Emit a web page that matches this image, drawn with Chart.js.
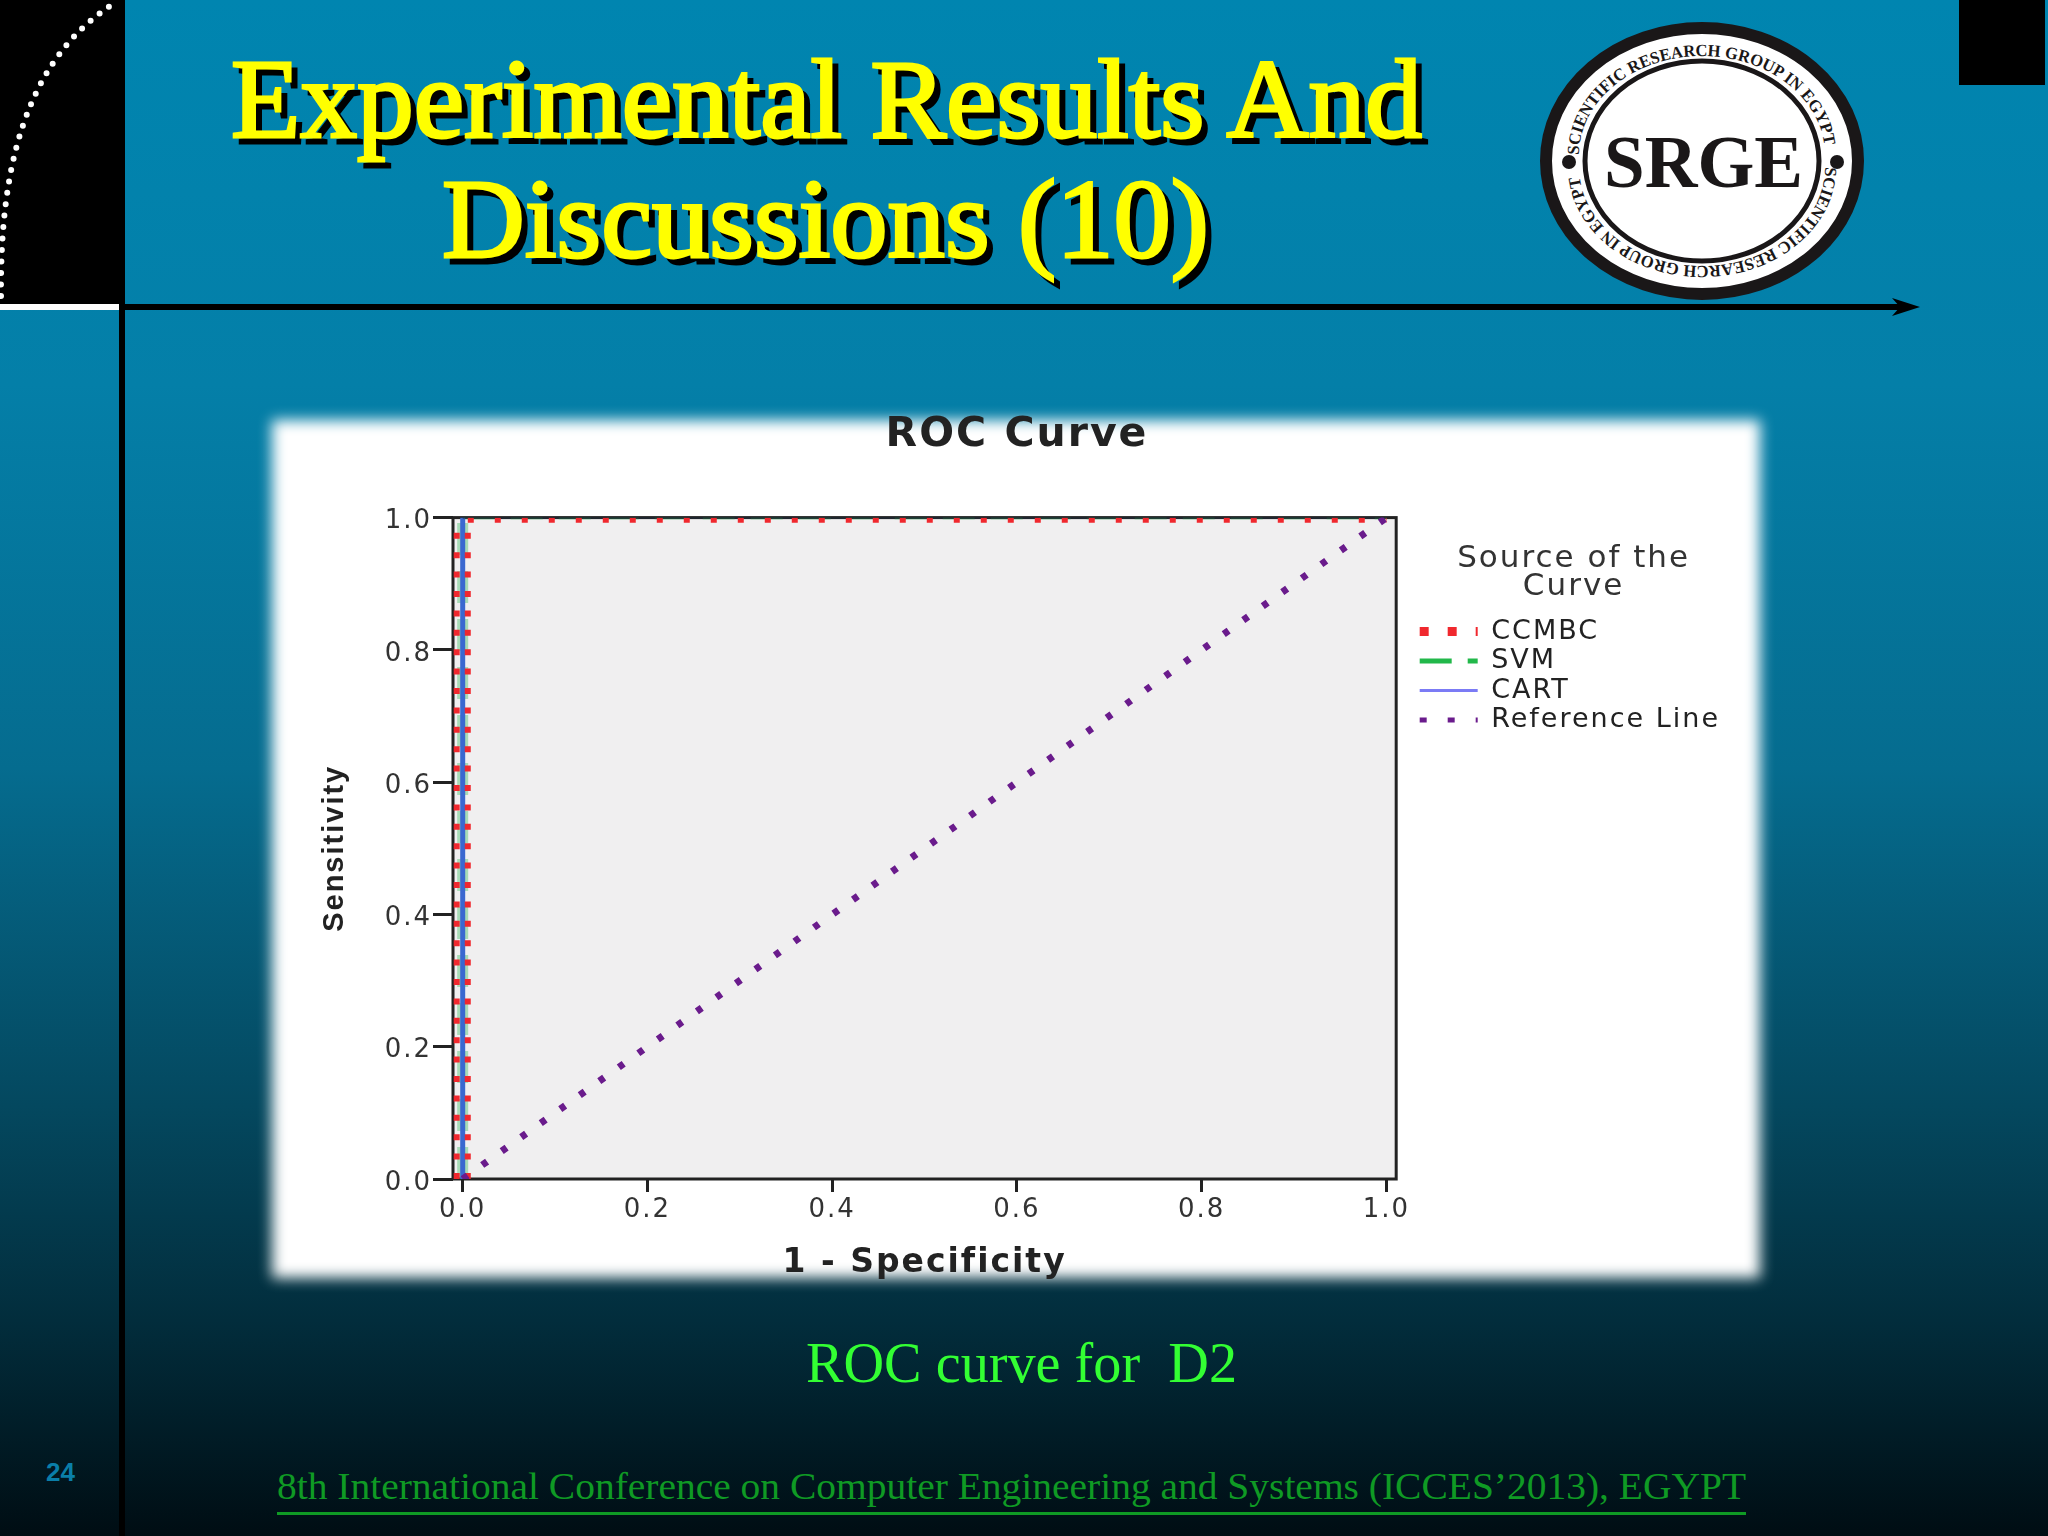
<!DOCTYPE html>
<html lang="en">
<head>
    <meta charset="UTF-8">
    <title>Experimental Results And Discussions (10)</title>
    <script src="https://cdn.jsdelivr.net/npm/chart.js"></script>
    <style>
        html, body { margin: 0; padding: 0; }
        body {
            width: 2048px; height: 1536px; overflow: hidden; position: relative;
            background: linear-gradient(#0085b0 0%, #047fa8 25%, #056c8f 50%, #04485f 72%, #022d3c 86%, #000d13 100%);
        }
        #panel { position: absolute; left: 272px; top: 420px; width: 1488px; height: 858px; background: #fff; filter: blur(7px); }
        #deco { position: absolute; left: 0; top: 0; }
        #wrap { position: absolute; left: 272px; top: 400px; width: 1490px; height: 883px; }
    </style>
</head>
<body>
    <div id="panel"></div>

    <svg id="deco" width="2048" height="1536" viewBox="0 0 2048 1536">
        <!-- slide furniture -->
        <rect x="0" y="0" width="125" height="304" fill="#000"/>
        <rect x="0" y="304" width="119" height="6" fill="#fff"/>
        <rect x="119" y="304" width="6" height="1232" fill="#000"/>
        <rect x="125" y="304" width="1785" height="6" fill="#000"/>
        <path d="M1892 298 L1920 307 L1892 316 L1900 307 Z" fill="#000"/>
        <rect x="1959" y="0" width="86" height="85" fill="#000"/>
        <path d="M1 296 C0 180 20 60 118 1" fill="none" stroke="#fff" stroke-width="6" stroke-linecap="round" stroke-dasharray="0 11.5"/>

        <!-- title -->
        <g font-family="Liberation Serif" font-size="112" fill="#ffff00" stroke="#ffff00" stroke-width="3" text-anchor="start">
            <text x="237" y="143" fill="#000" stroke="#000" textLength="1191" lengthAdjust="spacingAndGlyphs">Experimental Results And</text>
            <text x="448" y="263" fill="#000" stroke="#000" textLength="767" lengthAdjust="spacingAndGlyphs">Discussions (10)</text>
            <text x="231" y="137" textLength="1191" lengthAdjust="spacingAndGlyphs">Experimental Results And</text>
            <text x="442" y="257" textLength="767" lengthAdjust="spacingAndGlyphs">Discussions (10)</text>
        </g>

        <!-- logo -->
        <ellipse cx="1702" cy="161" rx="156" ry="133" fill="#fff" stroke="#1a1718" stroke-width="12"/>
        <ellipse cx="1702" cy="161" rx="117" ry="100" fill="#fff" stroke="#1a1718" stroke-width="5"/>
        <circle cx="1569" cy="162" r="7" fill="#1a1718"/>
        <circle cx="1837" cy="162" r="7" fill="#1a1718"/>
        <defs>
            <path id="arcTop" d="M1579 155 A123 99 0 0 1 1825 155"/>
            <path id="arcBottom" d="M1825 167 A123 99 0 0 1 1579 167"/>
        </defs>
        <g font-family="Liberation Serif" font-weight="bold" font-size="17" fill="#1a1718">
            <text><textPath href="#arcTop" textLength="340" lengthAdjust="spacingAndGlyphs">SCIENTIFIC RESEARCH GROUP IN EGYPT</textPath></text>
            <text><textPath href="#arcBottom" textLength="340" lengthAdjust="spacingAndGlyphs">SCIENTIFIC RESEARCH GROUP IN EGYPT</textPath></text>
        </g>
        <text x="1604" y="187" font-family="Liberation Serif" font-weight="bold" font-size="74" fill="#1a1718" textLength="199" lengthAdjust="spacingAndGlyphs">SRGE</text>

        <!-- caption and footer -->
        <text x="806" y="1382" font-family="Liberation Serif" font-size="56" fill="#33ff33" xml:space="preserve" textLength="431" lengthAdjust="spacingAndGlyphs">ROC curve for  D2</text>
        <text x="277" y="1499" font-family="Liberation Serif" font-size="38" fill="#0f9a24" textLength="1469" lengthAdjust="spacingAndGlyphs">8th International Conference on Computer Engineering and Systems (ICCES’2013), EGYPT</text>
        <rect x="277" y="1512" width="1469" height="3" fill="#0f9a24"/>
        <text x="46" y="1481" font-family="Liberation Sans" font-weight="bold" font-size="26" fill="#0a7ea8">24</text>
    </svg>

    <div id="wrap"><canvas id="rocChart" width="1490" height="883"></canvas></div>

    <script>
        const xTicks = [0, 0.2, 0.4, 0.6, 0.8, 1];
        const yTicks = [0, 0.2, 0.4, 0.6, 0.8, 1];

        // CCMBC shows as two red columns either side of x = 0, null breaks the path
        const ccmbcX = [-0.0065, -0.0065, null, 0.0055, 0.0055, 1];
        const ccmbcY = [0, 0.996, null, 0, 0.996, 0.996];
        const svmX = [0, 0, 1];
        const svmY = [0, 1, 1];
        const cartX = [0, 0, 1];
        const cartY = [0, 1, 1];
        const refX = [0, 1];
        const refY = [0, 1];

        function toPoints(xs, ys) {
            return xs.map((x, i) => ({ x: x, y: ys[i] }));
        }

        function isVertical(ctx) {
            return ctx.p0.parsed.x === ctx.p1.parsed.x;
        }

        const tickFont = { family: 'DejaVu Sans', size: 26 };

        // frame and grey plot background, and the text tracking of the stretched original
        const plotFrame = {
            id: 'plotFrame',
            beforeUpdate(chart) { chart.ctx.letterSpacing = '2px'; },
            afterLayout(chart) {
                // title centres on the whole canvas, legend sits clear of the plot
                chart.titleBlock.right = chart.width;
                const legend = chart.legend;
                const w = legend.width;
                legend.left = chart.chartArea.right + 21;
                legend.right = legend.left + w;
                legend.top = chart.chartArea.top + 26;
                legend.bottom = legend.top + 260;
            },
            beforeDatasetsDraw(chart) {
                const a = chart.chartArea, ctx = chart.ctx;
                ctx.save();
                ctx.fillStyle = '#f0eff0';
                ctx.fillRect(a.left, a.top, a.width, a.height);
                ctx.strokeStyle = '#222';
                ctx.lineWidth = 3;
                ctx.strokeRect(a.left, a.top, a.width, a.height);
                ctx.restore();
            }
        };

        new Chart(document.getElementById('rocChart'), {
            type: 'scatter',
            data: {
                datasets: [
                    // dataset dash and width feed the legend sample, segment values style the plot
                    {
                        label: 'CCMBC', data: toPoints(ccmbcX, ccmbcY), order: 1,
                        borderColor: '#f0282e', borderWidth: 9, borderDash: [9, 19],
                        segment: { borderDash: ctx => isVertical(ctx) ? [6, 13.4] : [6, 21], borderWidth: ctx => isVertical(ctx) ? 6 : 5 }
                    },
                    {
                        label: 'SVM', data: toPoints(svmX, svmY), order: 3,
                        borderColor: '#22b84a', borderWidth: 5, borderDash: [32, 16],
                        segment: { borderColor: 'rgba(34,184,74,0.35)', borderWidth: ctx => isVertical(ctx) ? 11 : 4 }
                    },
                    {
                        label: 'CART', data: toPoints(cartX, cartY), order: 2,
                        borderColor: '#7b7bf5', borderWidth: 3,
                        segment: { borderColor: ctx => isVertical(ctx) ? '#3a68d0' : '#1c2a3a', borderWidth: ctx => isVertical(ctx) ? 5 : 2 }
                    },
                    {
                        label: 'Reference Line', data: toPoints(refX, refY), order: 0,
                        borderColor: '#6a1b8c', borderWidth: 5, borderDash: [7, 21],
                        segment: { borderDash: [6, 18], borderWidth: 7 }
                    }
                ]
            },
            options: {
                responsive: false,
                animation: false,
                showLine: true,
                elements: { point: { radius: 0 }, line: { tension: 0 } },
                layout: { padding: { top: 0, right: 53, bottom: 0, left: 0 } },
                plugins: {
                    tooltip: { enabled: false },
                    title: {
                        display: true, text: 'ROC Curve', color: '#222',
                        font: { family: 'DejaVu Sans', size: 41, weight: 'bold' },
                        padding: { top: 11, bottom: 57.4 }
                    },
                    legend: {
                        position: 'right',
                        align: 'start',
                        title: {
                            display: true, text: ['Source of the', 'Curve'], color: '#333',
                            font: { family: 'DejaVu Sans', size: 31, lineHeight: 0.9 },
                            padding: { top: 0, bottom: 44 }
                        },
                        labels: {
                            color: '#222', font: { family: 'DejaVu Sans', size: 27 },
                            usePointStyle: true, pointStyle: 'line', pointStyleWidth: 58, padding: 2.5,
                            sort: (a, b) => a.datasetIndex - b.datasetIndex,
                            generateLabels(chart) {
                                // point style legends do not pick up the dash on their own
                                return Chart.defaults.plugins.legend.labels.generateLabels(chart).map(item => {
                                    item.lineDash = chart.data.datasets[item.datasetIndex].borderDash || [];
                                    return item;
                                });
                            }
                        }
                    }
                },
                scales: {
                    x: {
                        type: 'linear', min: -0.0105, max: 1.0105,
                        afterBuildTicks(scale) { scale.ticks = xTicks.map(v => ({ value: v })); },
                        afterFit(scale) { scale.height = 104; },
                        grid: { drawOnChartArea: false, color: '#222', lineWidth: 3, tickLength: 13 },
                        border: { display: false },
                        ticks: { color: '#333', font: tickFont, padding: 3, maxRotation: 0, callback: v => v.toFixed(1) },
                        title: {
                            display: true, text: '1 - Specificity', color: '#222',
                            font: { family: 'DejaVu Sans', size: 33, weight: 'bold' },
                            padding: { top: 0, bottom: 0 }
                        }
                    },
                    y: {
                        type: 'linear', min: 0, max: 1,
                        afterBuildTicks(scale) { scale.ticks = yTicks.map(v => ({ value: v })); },
                        afterFit(scale) { scale.width = 181; },
                        grid: { drawOnChartArea: false, color: '#222', lineWidth: 3, tickLength: 20 },
                        border: { display: false },
                        ticks: { color: '#333', font: tickFont, padding: 1, labelOffset: 4, callback: v => v.toFixed(1) },
                        title: {
                            display: true, text: 'Sensitivity', color: '#222',
                            font: { family: 'Liberation Sans', size: 29, weight: 'bold' },
                            padding: { top: 46, bottom: 0 }
                        }
                    }
                }
            },
            plugins: [plotFrame]
        });
    </script>
</body>
</html>
